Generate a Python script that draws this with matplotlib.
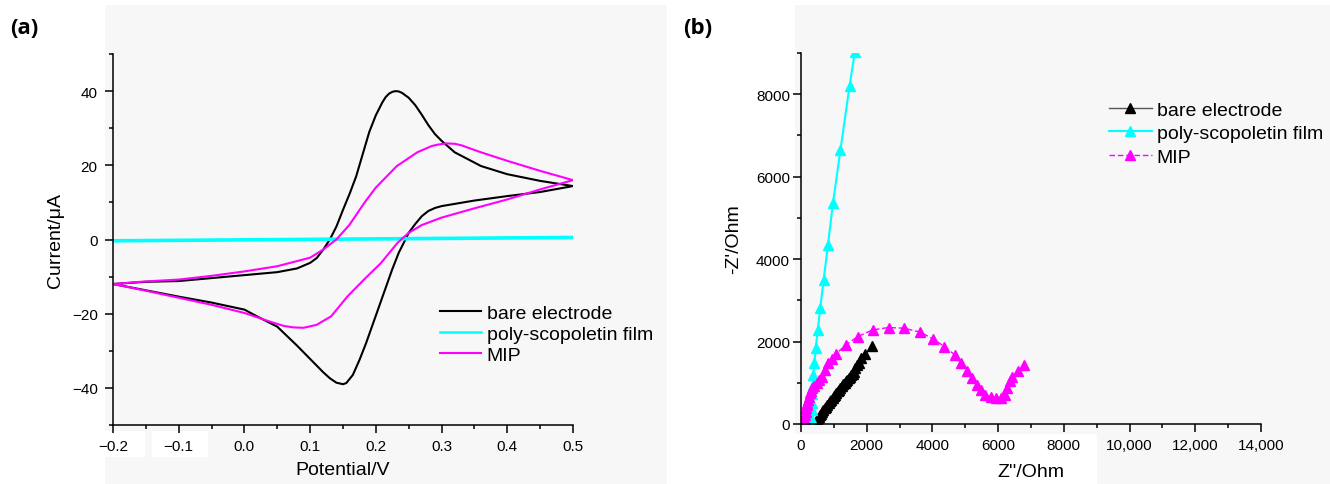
import matplotlib
matplotlib.use("Agg")
import matplotlib.pyplot as plt
from matplotlib.patches import Rectangle
from matplotlib.ticker import MultipleLocator

plt.rcParams['font.family'] = ['Liberation Sans', 'DejaVu Sans']

# ---------------- (a) cyclic voltammetry data ----------------
bare_x = [-0.2, -0.15, -0.1, -0.05, 0.0, 0.05, 0.08, 0.1, 0.11, 0.12, 0.13, 0.14, 0.15, 0.16, 0.17,
          0.18, 0.19, 0.2, 0.21, 0.215, 0.22, 0.225, 0.23, 0.235, 0.24, 0.25, 0.26, 0.27, 0.28, 0.29,
          0.3, 0.32, 0.36, 0.4, 0.45, 0.5,
          0.45, 0.4, 0.35, 0.3, 0.29, 0.28, 0.27, 0.26, 0.25, 0.245, 0.235, 0.225, 0.215, 0.205, 0.195,
          0.185, 0.175, 0.165, 0.155, 0.15, 0.14, 0.13, 0.12, 0.1, 0.08, 0.05, 0.02, 0.0, -0.05, -0.1,
          -0.15, -0.2]
bare_y = [-12, -11.4, -11.2, -10.4, -9.6, -8.8, -7.8, -6.3, -5.0, -2.7, 0, 3.5, 8, 12.3, 17,
          23, 29, 33.5, 37, 38.4, 39.3, 39.8, 40, 39.9, 39.5, 38.2, 36.2, 33.6, 30.8, 28.4,
          26.6, 23.5, 19.8, 17.6, 15.8, 14.4,
          12.8, 11.7, 10.5, 9, 8.5, 7.7, 6.3, 4.2, 1.8, 0, -3.5, -8, -13, -18, -23,
          -28, -32.5, -36.5, -38.7, -39, -38.6, -37.4, -35.8, -32.2, -28.6, -23.5, -20.8, -18.9, -17, -15.4,
          -13.7, -12]

poly_x = [-0.2, 0.5, 0.5, -0.2]
poly_y = [-0.2, 0.7, 0.4, -0.5]

mip_x = [-0.2, -0.15, -0.1, -0.05, 0.0, 0.05, 0.1, 0.12, 0.14, 0.16, 0.183, 0.2, 0.232, 0.263, 0.285,
         0.295, 0.307, 0.32, 0.33, 0.36, 0.4, 0.45, 0.5,
         0.45, 0.4, 0.35, 0.3, 0.27, 0.25, 0.233, 0.208, 0.182, 0.157, 0.132, 0.11, 0.09, 0.075, 0.06,
         0.04, 0.0, -0.05, -0.1, -0.15, -0.2]
mip_y = [-12, -11.3, -10.8, -9.8, -8.6, -7.2, -4.9, -2.7, 0, 4, 10, 14, 19.8, 23.5, 25.2,
         25.6, 25.9, 25.8, 25.4, 23.5, 21.2, 18.5, 16,
         13.5, 10.8, 8.4, 5.9, 3.9, 1.8, -0.9, -6.3, -10.8, -15.3, -20.7, -23, -23.8, -23.7, -23.3,
         -22.2, -19.8, -17.6, -15.7, -13.8, -12]

cv_xticks = [-0.2, -0.1, 0.0, 0.1, 0.2, 0.3, 0.4, 0.5]
cv_xlabels = ['\u22120.2', '\u22120.1', '0.0', '0.1', '0.2', '0.3', '0.4', '0.5']
cv_yticks = [-40, -20, 0, 20, 40]
cv_ylabels = ['\u221240', '\u221220', '0', '20', '40']

# ---------------- (b) Nyquist data ----------------
eis_bare_x = [420, 450, 480, 510, 540, 570, 600, 640, 680, 720, 760, 800, 840, 880, 920, 960, 1000,
              1040, 1080, 1120, 1160, 1200, 1250, 1290, 1330, 1370, 1410, 1450, 1490, 1530, 1570,
              1600, 1650, 1700, 1760, 1830, 1960, 2170]
eis_bare_y = [20, 50, 110, 140, 175, 210, 240, 290, 330, 380, 420, 460, 500, 550, 590, 630, 670,
              710, 750, 790, 830, 870, 920, 960, 1000, 1040, 1075, 1110, 1150, 1190, 1225,
              1260, 1350, 1420, 1490, 1600, 1700, 1900]

eis_poly_x = [310, 315, 322, 330, 340, 355, 376, 405, 445, 510, 585, 690, 822, 973, 1201, 1479, 1640]
eis_poly_y = [0, 150, 330, 520, 720, 950, 1190, 1480, 1840, 2270, 2810, 3500, 4350, 5360, 6650, 8210, 9030]

eis_mip_x = [20, 41, 55, 70, 85, 102, 120, 142, 158, 173, 195, 223, 250, 274, 305, 345, 400, 477,
             550, 629, 720, 834, 940, 1058, 1363, 1729, 2177, 2665, 3143,
             3632, 4018, 4364, 4680, 4883, 5056, 5209, 5361, 5493, 5615, 5768, 5921, 6073, 6205,
             6277, 6350, 6430, 6612, 6800]
eis_mip_y = [0, 40, 65, 90, 115, 138, 210, 300, 380, 462, 520, 583, 660, 745, 800, 866, 930, 988,
             1070, 1150, 1310, 1474, 1580, 1692, 1919, 2121, 2283, 2340, 2324,
             2227, 2065, 1879, 1676, 1474, 1287, 1109, 947, 826, 704, 648, 623, 640, 704,
             866, 1040, 1150, 1290, 1440]

eis_xticks = [0, 2000, 4000, 6000, 8000, 10000, 12000, 14000]
eis_xlabels = ['0', '2000', '4000', '6000', '8000', '10,000', '12,000', '14,000']
eis_yticks = [0, 2000, 4000, 6000, 8000]

labels = ['bare electrode', 'poly-scopoletin film', 'MIP']
colors = ['#000000', '#00ffff', '#ff00ff']

W, H = 1330, 485
fig = plt.figure(figsize=(W / 100, H / 100), dpi=100)
fig.patch.set_facecolor('white')

def px_rect(x0, y0, x1, y1, color):
    fig.add_artist(Rectangle((x0 / W, 1 - y1 / H), (x1 - x0) / W, (y1 - y0) / H,
                             transform=fig.transFigure, facecolor=color, edgecolor='none', zorder=-10))

bg = '#f7f7f7'
px_rect(105, 6, 667, 485, bg)
px_rect(795, 6, 1330, 485, bg)
px_rect(105, 432, 145, 458, 'white')
px_rect(152, 432, 208, 458, 'white')
px_rect(795, 435, 1097, 485, 'white')

def axes_px(x0, y0, x1, y1):
    a = fig.add_axes([x0 / W, 1 - y1 / H, (x1 - x0) / W, (y1 - y0) / H])
    a.set_zorder(1)
    a.patch.set_visible(False)
    return a

# ---------- panel (a) ----------
ax1 = axes_px(113, 55, 573, 426)
ax1.plot(bare_x, bare_y, color=colors[0], lw=1.5, label=labels[0])
ax1.plot(poly_x, poly_y, color=colors[1], lw=1.8, label=labels[1])
ax1.plot(mip_x, mip_y, color=colors[2], lw=1.5, label=labels[2])
ax1.set_xlim(-0.2, 0.5)
ax1.set_ylim(-50, 50)
ax1.set_xticks(cv_xticks)
ax1.set_xticklabels(cv_xlabels)
ax1.xaxis.set_minor_locator(MultipleLocator(0.05))
ax1.set_yticks(cv_yticks)
ax1.set_yticklabels(cv_ylabels)
ax1.yaxis.set_minor_locator(MultipleLocator(10))
ax1.set_xlabel('Potential/V', fontsize=14, labelpad=6)
ax1.set_ylabel('Current/\u03bcA', fontsize=14, labelpad=6)
ax1.legend(loc='upper left', bbox_to_anchor=(440 / W, 1 - 305 / H), bbox_transform=fig.transFigure,
           frameon=False, fontsize=14, handlelength=2.1, handletextpad=0.3, labelspacing=0.18,
           borderpad=0, borderaxespad=0)

# ---------- panel (b) ----------
ax2 = axes_px(801, 54, 1261, 425)
ax2.plot(eis_bare_x, eis_bare_y, color='#555555', lw=1.0, marker='^', markersize=7.5,
         markerfacecolor=colors[0], markeredgecolor=colors[0], label=labels[0])
ax2.plot(eis_poly_x, eis_poly_y, color=colors[1], lw=1.5, marker='^', markersize=7.5,
         markerfacecolor=colors[1], markeredgecolor=colors[1], label=labels[1])
ax2.plot(eis_mip_x, eis_mip_y, color=colors[2], lw=1.0, ls=(0, (4, 2)), marker='^', markersize=7.5,
         markerfacecolor=colors[2], markeredgecolor=colors[2], label=labels[2])
ax2.set_xlim(0, 14000)
ax2.set_ylim(0, 9000)
ax2.set_xticks(eis_xticks)
ax2.set_xticklabels(eis_xlabels)
ax2.xaxis.set_minor_locator(MultipleLocator(1000))
ax2.set_yticks(eis_yticks)
ax2.yaxis.set_minor_locator(MultipleLocator(1000))
ax2.set_xlabel("Z''/Ohm", fontsize=14, labelpad=8)
ax2.set_ylabel("-Z'/Ohm", fontsize=14, labelpad=10)
ax2.legend(loc='upper left', bbox_to_anchor=(1109 / W, 1 - 102 / H), bbox_transform=fig.transFigure,
           frameon=False, fontsize=14, handlelength=2.2, handletextpad=0.25, labelspacing=0.31,
           borderpad=0, borderaxespad=0, numpoints=1)

for ax, ypad in ((ax1, 5), (ax2, 2)):
    for s in ('top', 'right'):
        ax.spines[s].set_visible(False)
    for s in ('left', 'bottom'):
        ax.spines[s].set_linewidth(1.1)
    ax.tick_params(which='major', direction='out', length=6, width=1.1, labelsize=11)
    ax.tick_params(which='minor', direction='out', length=3, width=1.1)
    ax.tick_params(axis='y', which='major', pad=ypad)
    ax.tick_params(axis='x', which='major', pad=4)

fig.text(10 / W, 1 - 28 / H, '(a)', fontsize=16, fontweight='bold', family=['Open Sans', 'DejaVu Sans'],
         va='center', ha='left')
fig.text(683 / W, 1 - 28 / H, '(b)', fontsize=16, fontweight='bold', family=['Open Sans', 'DejaVu Sans'],
         va='center', ha='left')

fig.savefig('out.png', dpi=100, facecolor=fig.get_facecolor())
